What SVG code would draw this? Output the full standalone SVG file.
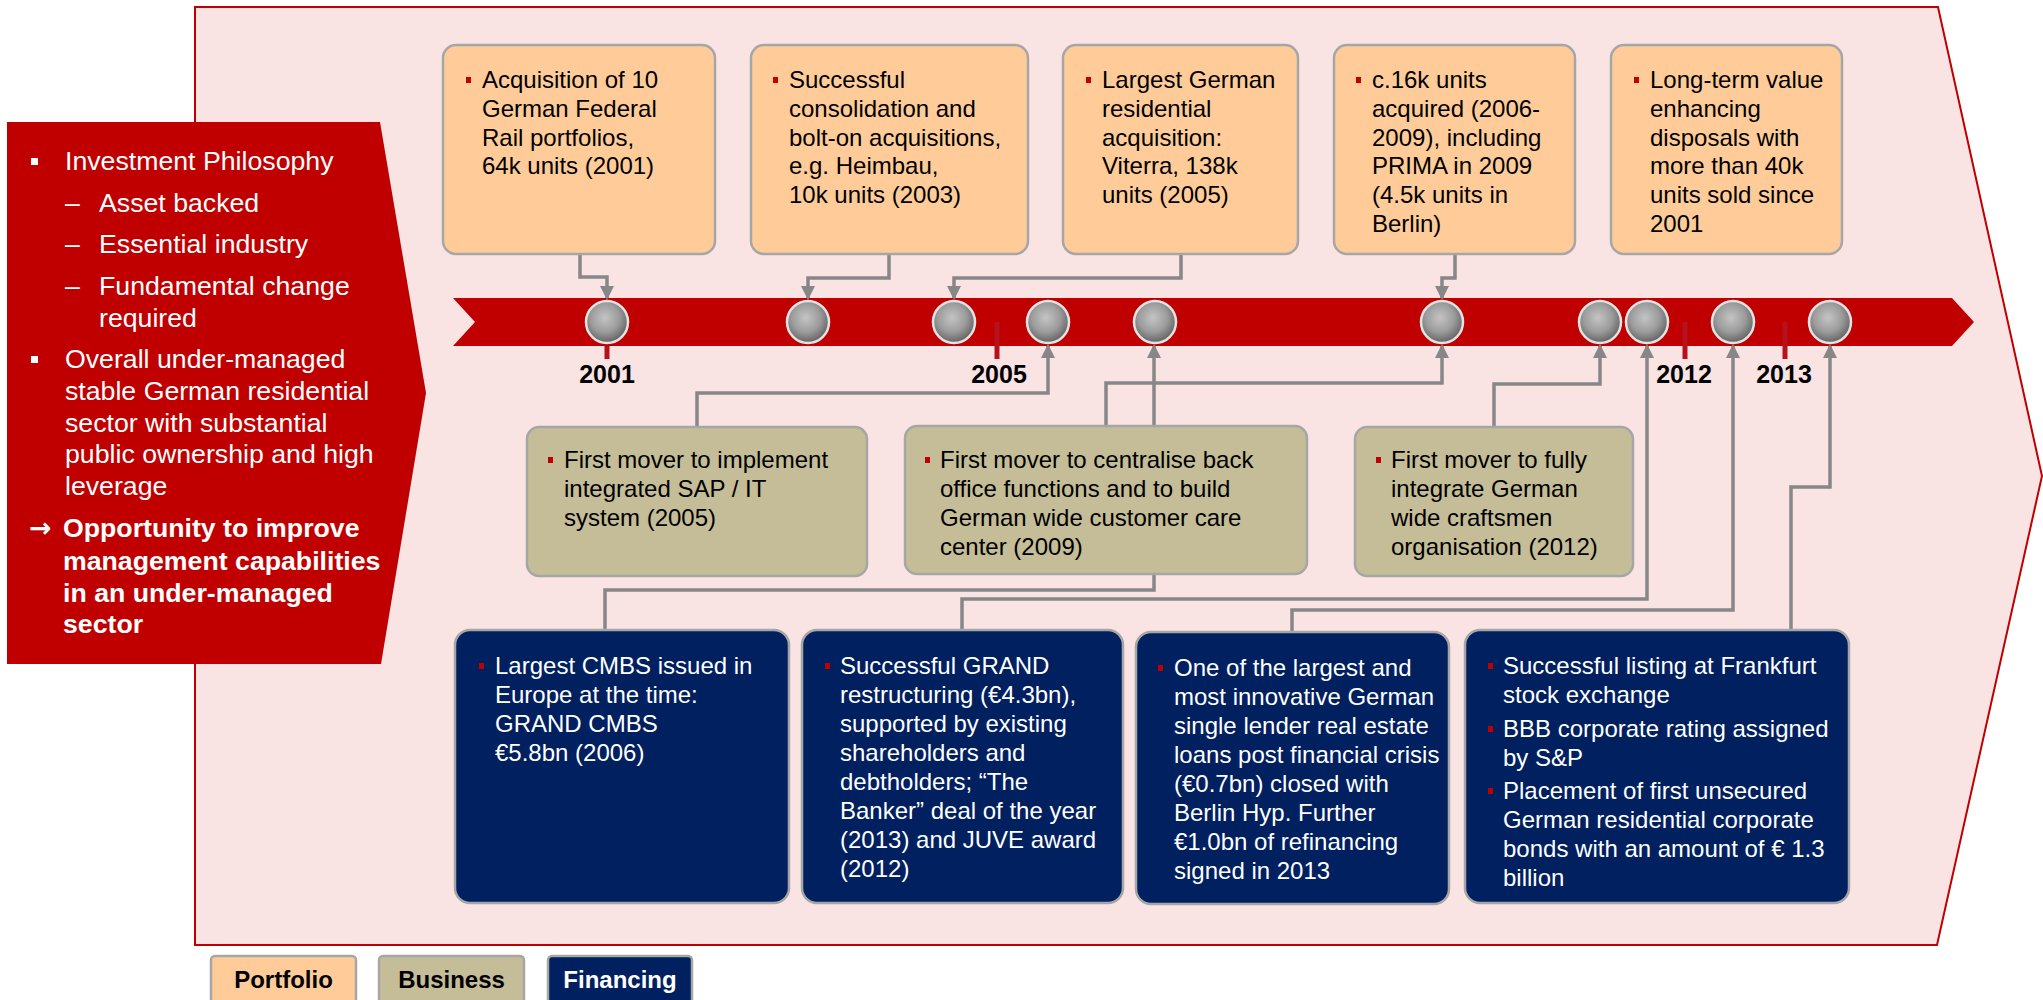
<svg xmlns="http://www.w3.org/2000/svg" width="2043" height="1000" viewBox="0 0 2043 1000">
<defs>
<style>
.t{font-family:"Liberation Sans",Arial,"DejaVu Sans",sans-serif;font-size:24px;fill:#000}
.w{fill:#fff}
.pn{font-family:"Liberation Sans",Arial,"DejaVu Sans",sans-serif;font-size:26.7px;fill:#fff}
.ar{font-family:"DejaVu Sans",sans-serif;font-size:26.7px;font-weight:bold;fill:#fff}
.b{font-weight:bold}
.pf{fill:#FFCC99;stroke:#A6A6A6;stroke-width:2.5}
.bs{fill:#C4BD97;stroke:#A6A6A6;stroke-width:2.5}
.fn{fill:#002060;stroke:#A6A6A6;stroke-width:2.5}
.bl{fill:#C00000}
.cn{fill:none;stroke:#878787;stroke-width:3.5;marker-end:url(#ah)}
.ball{fill:url(#ball);stroke:#E4E4E4;stroke-width:2.5}
.yr{font-family:"Liberation Sans",Arial,sans-serif;font-size:25px;font-weight:bold;text-anchor:middle;fill:#000}
.tick{stroke:#B5121B;stroke-width:5}
.lg{font-family:"Liberation Sans",Arial,sans-serif;font-size:24px;font-weight:bold;text-anchor:middle}
</style>
<radialGradient id="ball" cx="45%" cy="40%" r="62%">
<stop offset="0" stop-color="#c4c4c4"/>
<stop offset="0.55" stop-color="#9c9c9c"/>
<stop offset="1" stop-color="#5e5e5e"/>
</radialGradient>
<marker id="ah" markerUnits="userSpaceOnUse" markerWidth="14" markerHeight="14" refX="12" refY="7" orient="auto">
<path d="M0,0 L14,7 L0,14 z" fill="#878787"/>
</marker>
</defs>
<rect x="0" y="0" width="2043" height="1000" fill="#fff"/>

<g id="frame">
<polygon points="195,7 1938,7 2042,476 1937,945 195,945" fill="#F9E3E3" stroke="#C00000" stroke-width="2"/>
</g>

<g id="philosophy">
<polygon points="7,122 380,122 426,393 381,664 7,664" fill="#C00000"/>
<rect x="31" y="158" width="7" height="7" fill="#fff"/>
<text class="pn" x="65" y="170">Investment Philosophy</text>
<text class="pn" x="65" y="212">–</text><text class="pn" x="99" y="212">Asset backed</text>
<text class="pn" x="65" y="253">–</text><text class="pn" x="99" y="253">Essential industry</text>
<text class="pn" x="65" y="295">–</text><text class="pn" x="99" y="295">Fundamental change</text>
<text class="pn" x="99" y="327">required</text>
<rect x="31" y="356" width="7" height="7" fill="#fff"/>
<text class="pn" x="65" y="368">Overall under-managed</text>
<text class="pn" x="65" y="400">stable German residential</text>
<text class="pn" x="65" y="432">sector with substantial</text>
<text class="pn" x="65" y="463">public ownership and high</text>
<text class="pn" x="65" y="495">leverage</text>
<text class="ar" x="29" y="537">→</text>
<text class="pn b" x="63" y="537">Opportunity to improve</text>
<text class="pn b" x="63" y="570">management capabilities</text>
<text class="pn b" x="63" y="602">in an under-managed</text>
<text class="pn b" x="63" y="633">sector</text>
</g>

<g id="timeline">
<polygon points="453,298 1952,298 1974,322 1952,346 453,346 475,322" fill="#C00000"/>
<line class="tick" x1="607" y1="346" x2="607" y2="359"/>
<line class="tick" x1="997" y1="322" x2="997" y2="359"/>
<line class="tick" x1="1685" y1="322" x2="1685" y2="359"/>
<line class="tick" x1="1785" y1="322" x2="1785" y2="359"/>
<text class="yr" x="607" y="383">2001</text>
<text class="yr" x="999" y="383">2005</text>
<text class="yr" x="1684" y="383">2012</text>
<text class="yr" x="1784" y="383">2013</text>
</g>

<g id="connectors">
<path class="cn" d="M580,254 V277 H607 V298"/>
<path class="cn" d="M889,254 V278 H808 V298"/>
<path class="cn" d="M1181,254 V278 H954 V298"/>
<path class="cn" d="M1455,254 V278 H1442 V298"/>
<path class="cn" d="M697,427 V393 H1048 V346"/>
<path class="cn" d="M1106,426 V383 H1442 V346"/>
<path class="cn" d="M605,630 V590 H1154 V346"/>
<path class="cn" d="M1494,427 V384 H1600 V346"/>
<path class="cn" d="M962,630 V599 H1647 V346"/>
<path class="cn" d="M1292,632 V610 H1733 V346"/>
<path class="cn" d="M1791,630 V487 H1830 V346"/>
</g>

<g id="milestones">
<circle class="ball" cx="607" cy="322" r="21"/>
<circle class="ball" cx="808" cy="322" r="21"/>
<circle class="ball" cx="954" cy="322" r="21"/>
<circle class="ball" cx="1048" cy="322" r="21"/>
<circle class="ball" cx="1155" cy="322" r="21"/>
<circle class="ball" cx="1442" cy="322" r="21"/>
<circle class="ball" cx="1600" cy="322" r="21"/>
<circle class="ball" cx="1647" cy="322" r="21"/>
<circle class="ball" cx="1733" cy="322" r="21"/>
<circle class="ball" cx="1830" cy="322" r="21"/>
</g>

<g id="p1">
<rect class="pf" x="443" y="45" width="272" height="209" rx="13"/>
<rect class="bl" x="466" y="77" width="5" height="6"/>
<text class="t"><tspan x="482" y="88">Acquisition of 10</tspan><tspan x="482" y="116.8">German Federal</tspan><tspan x="482" y="145.6">Rail portfolios,</tspan><tspan x="482" y="174.4">64k units (2001)</tspan></text>
</g>
<g id="p2">
<rect class="pf" x="751" y="45" width="277" height="209" rx="13"/>
<rect class="bl" x="773" y="77" width="5" height="6"/>
<text class="t"><tspan x="789" y="88">Successful</tspan><tspan x="789" y="116.8">consolidation and</tspan><tspan x="789" y="145.6">bolt-on acquisitions,</tspan><tspan x="789" y="174.4">e.g. Heimbau,</tspan><tspan x="789" y="203.2">10k units (2003)</tspan></text>
</g>
<g id="p3">
<rect class="pf" x="1063" y="45" width="235" height="209" rx="13"/>
<rect class="bl" x="1086" y="77" width="5" height="6"/>
<text class="t"><tspan x="1102" y="88">Largest German</tspan><tspan x="1102" y="116.8">residential</tspan><tspan x="1102" y="145.6">acquisition:</tspan><tspan x="1102" y="174.4">Viterra, 138k</tspan><tspan x="1102" y="203.2">units (2005)</tspan></text>
</g>
<g id="p4">
<rect class="pf" x="1334" y="45" width="241" height="209" rx="13"/>
<rect class="bl" x="1356" y="77" width="5" height="6"/>
<text class="t"><tspan x="1372" y="88">c.16k units</tspan><tspan x="1372" y="116.8">acquired (2006-</tspan><tspan x="1372" y="145.6">2009), including</tspan><tspan x="1372" y="174.4">PRIMA in 2009</tspan><tspan x="1372" y="203.2">(4.5k units in</tspan><tspan x="1372" y="232">Berlin)</tspan></text>
</g>
<g id="p5">
<rect class="pf" x="1611" y="45" width="231" height="209" rx="13"/>
<rect class="bl" x="1634" y="77" width="5" height="6"/>
<text class="t"><tspan x="1650" y="88">Long-term value</tspan><tspan x="1650" y="116.8">enhancing</tspan><tspan x="1650" y="145.6">disposals with</tspan><tspan x="1650" y="174.4">more than 40k</tspan><tspan x="1650" y="203.2">units sold since</tspan><tspan x="1650" y="232">2001</tspan></text>
</g>

<g id="b1">
<rect class="bs" x="527" y="427" width="340" height="149" rx="12"/>
<rect class="bl" x="548" y="457" width="5" height="6"/>
<text class="t"><tspan x="564" y="468">First mover to implement</tspan><tspan x="564" y="497">integrated SAP / IT</tspan><tspan x="564" y="526">system (2005)</tspan></text>
</g>
<g id="b2">
<rect class="bs" x="905" y="426" width="402" height="148" rx="12"/>
<rect class="bl" x="925" y="457" width="5" height="6"/>
<text class="t"><tspan x="940" y="468">First mover to centralise back</tspan><tspan x="940" y="497">office functions and to build</tspan><tspan x="940" y="526">German wide customer care</tspan><tspan x="940" y="555">center (2009)</tspan></text>
</g>
<g id="b3">
<rect class="bs" x="1355" y="427" width="278" height="149" rx="12"/>
<rect class="bl" x="1376" y="457" width="5" height="6"/>
<text class="t"><tspan x="1391" y="468">First mover to fully</tspan><tspan x="1391" y="497">integrate German</tspan><tspan x="1391" y="526">wide craftsmen</tspan><tspan x="1391" y="555">organisation (2012)</tspan></text>
</g>

<g id="f1">
<rect class="fn" x="455" y="630" width="334" height="273" rx="15"/>
<rect class="bl" x="479" y="663" width="5" height="6"/>
<text class="t w"><tspan x="495" y="674">Largest CMBS issued in</tspan><tspan x="495" y="703">Europe at the time:</tspan><tspan x="495" y="732">GRAND CMBS</tspan><tspan x="495" y="761">€5.8bn (2006)</tspan></text>
</g>
<g id="f2">
<rect class="fn" x="802" y="630" width="321" height="273" rx="15"/>
<rect class="bl" x="825" y="663" width="5" height="6"/>
<text class="t w"><tspan x="840" y="674">Successful GRAND</tspan><tspan x="840" y="703">restructuring (€4.3bn),</tspan><tspan x="840" y="732">supported by existing</tspan><tspan x="840" y="761">shareholders and</tspan><tspan x="840" y="790">debtholders; “The</tspan><tspan x="840" y="819">Banker” deal of the year</tspan><tspan x="840" y="848">(2013) and JUVE award</tspan><tspan x="840" y="877">(2012)</tspan></text>
</g>
<g id="f3">
<rect class="fn" x="1136" y="632" width="313" height="272" rx="15"/>
<rect class="bl" x="1158" y="665" width="5" height="6"/>
<text class="t w"><tspan x="1174" y="676">One of the largest and</tspan><tspan x="1174" y="705">most innovative German</tspan><tspan x="1174" y="734">single lender real estate</tspan><tspan x="1174" y="763">loans post financial crisis</tspan><tspan x="1174" y="792">(€0.7bn) closed with</tspan><tspan x="1174" y="821">Berlin Hyp. Further</tspan><tspan x="1174" y="850">€1.0bn of refinancing</tspan><tspan x="1174" y="879">signed in 2013</tspan></text>
</g>
<g id="f4">
<rect class="fn" x="1465" y="630" width="384" height="273" rx="15"/>
<rect class="bl" x="1488" y="663" width="5" height="6"/>
<rect class="bl" x="1488" y="726" width="5" height="6"/>
<rect class="bl" x="1488" y="788" width="5" height="6"/>
<text class="t w"><tspan x="1503" y="674">Successful listing at Frankfurt</tspan><tspan x="1503" y="703">stock exchange</tspan><tspan x="1503" y="737">BBB corporate rating assigned</tspan><tspan x="1503" y="766">by S&amp;P</tspan><tspan x="1503" y="799">Placement of first unsecured</tspan><tspan x="1503" y="828">German residential corporate</tspan><tspan x="1503" y="857">bonds with an amount of € 1.3</tspan><tspan x="1503" y="886">billion</tspan></text>
</g>

<g id="legend-portfolio">
<rect class="pf" x="211" y="956" width="145" height="52" rx="4"/>
<text class="lg" x="283.5" y="988" fill="#000">Portfolio</text>
</g>
<g id="legend-business">
<rect class="bs" x="379" y="956" width="145" height="52" rx="4"/>
<text class="lg" x="451.5" y="988" fill="#000">Business</text>
</g>
<g id="legend-financing">
<rect class="fn" x="548" y="956" width="144" height="52" rx="4"/>
<text class="lg" x="620" y="988" fill="#fff">Financing</text>
</g>
</svg>
